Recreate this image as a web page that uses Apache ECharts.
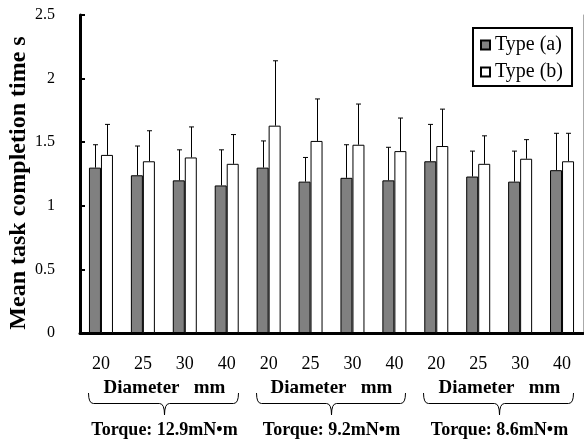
<!DOCTYPE html>
<html>
<head>
<meta charset="utf-8">
<title>Mean task completion time</title>
<script src="https://cdn.jsdelivr.net/npm/echarts@6/dist/echarts.min.js"></script>
<style>
  html, body { margin: 0; padding: 0; background: #fff; }
  #chart { width: 584px; height: 446px; }
</style>
</head>
<body>
<div id="chart"></div>
<script>
// diameter (mm) of each condition, three torque settings of four diameters
const diameters = ['20', '25', '30', '40', '20', '25', '30', '40', '20', '25', '30', '40']
const torqueLabels = ['Torque: 12.9mN\u2022m', 'Torque: 9.2mN\u2022m', 'Torque: 8.6mN\u2022m']
const groupLabel = 'Diameter   mm'
const seriesNames = ['Type (a)', 'Type (b)']

// mean task completion time (s) and standard deviation
const meanA = [1.30, 1.24, 1.20, 1.16, 1.30, 1.19, 1.22, 1.20, 1.35, 1.23, 1.19, 1.28]
const sdA = [0.18, 0.23, 0.24, 0.28, 0.21, 0.19, 0.26, 0.26, 0.29, 0.20, 0.24, 0.29]
const meanB = [1.40, 1.35, 1.38, 1.33, 1.63, 1.51, 1.48, 1.43, 1.47, 1.33, 1.37, 1.35]
const sdB = [0.24, 0.24, 0.24, 0.23, 0.51, 0.33, 0.32, 0.26, 0.29, 0.22, 0.15, 0.22]

const yMin = 0
const yMax = 2.5
const yStep = 0.5

const FONT = "'Liberation Serif', 'Times New Roman', serif"
const BAR_W = 12

const chart = echarts.init(document.getElementById('chart'))

// error bar: line from the mean up to mean + sd, with a small cap
function errorBar (side) {
  return function (params, api) {
    const idx = api.value(0)
    const base = api.coord([idx, api.value(1)])
    const top = api.coord([idx, api.value(2)])
    const x = Math.round(base[0] + side * BAR_W / 2) + 0.5
    const style = { stroke: '#000', lineWidth: 1 }
    return {
      type: 'group',
      children: [
        { type: 'line', shape: { x1: x, y1: base[1], x2: x, y2: top[1] }, style: style },
        { type: 'line', shape: { x1: x - 2.5, y1: top[1], x2: x + 2.5, y2: top[1] }, style: style }
      ]
    }
  }
}

const option = {
  animation: false,
  backgroundColor: '#fff',
  grid: { left: 80, top: 15, right: 1, bottom: 113, outerBoundsMode: 'none' },
  legend: {
    data: seriesNames,
    orient: 'vertical',
    left: 473,
    top: 28,
    padding: [7, 9, 4, 7],
    borderColor: '#000',
    borderWidth: 2,
    itemWidth: 9,
    itemHeight: 9,
    itemGap: 7,
    icon: 'rect',
    textStyle: { fontFamily: FONT, fontSize: 20, color: '#000', lineHeight: 20 }
  },
  xAxis: [
    {
      type: 'category',
      data: diameters,
      axisLine: { lineStyle: { color: '#000', width: 3 } },
      axisTick: { inside: true, length: 5, lineStyle: { color: '#000', width: 2 } },
      axisLabel: { fontFamily: FONT, fontSize: 18, color: '#000', margin: 22, interval: 0 }
    },
    {
      type: 'category',
      position: 'top',
      data: diameters,
      axisLine: { lineStyle: { color: '#000', width: 2 } },
      axisTick: { show: false },
      axisLabel: { show: false }
    }
  ],
  yAxis: [
    {
      type: 'value',
      min: yMin,
      max: yMax,
      interval: yStep,
      name: 'Mean task completion time s',
      nameLocation: 'middle',
      nameGap: 49,
      nameMoveOverlap: false,
      nameTextStyle: { fontFamily: FONT, fontSize: 24, fontWeight: 'bold', color: '#000', padding: [0, 18, 0, 0] },
      axisLine: { show: true, lineStyle: { color: '#000', width: 3 } },
      axisTick: { show: true, inside: true, length: 5, lineStyle: { color: '#000', width: 2 } },
      axisLabel: { fontFamily: FONT, fontSize: 16, color: '#000', margin: 25 },
      splitLine: { show: false }
    },
    {
      type: 'value',
      position: 'right',
      min: yMin,
      max: yMax,
      axisLine: { show: true, lineStyle: { color: '#aaa', width: 1 } },
      axisTick: { show: false },
      axisLabel: { show: false },
      splitLine: { show: false }
    }
  ],
  series: [
    {
      name: seriesNames[0],
      type: 'bar',
      data: meanA,
      barWidth: BAR_W,
      barGap: '0%',
      itemStyle: { color: '#808080', borderColor: '#000', borderWidth: 1 }
    },
    {
      name: seriesNames[1],
      type: 'bar',
      data: meanB,
      barWidth: BAR_W,
      barGap: '0%',
      itemStyle: { color: '#fff', borderColor: '#000', borderWidth: 1 }
    },
    {
      name: 'errA',
      type: 'custom',
      renderItem: errorBar(-1),
      data: meanA.map((m, i) => [i, m, m + sdA[i]]),
      z: 5
    },
    {
      name: 'errB',
      type: 'custom',
      renderItem: errorBar(1),
      data: meanB.map((m, i) => [i, m, m + sdB[i]]),
      z: 5
    }
  ]
}
chart.setOption(option)

// braces and labels under each torque group
function drawGroups () {
  const per = diameters.length / torqueLabels.length
  const c0 = chart.convertToPixel({ xAxisIndex: 0 }, 0)
  const c1 = chart.convertToPixel({ xAxisIndex: 0 }, 1)
  const cw = c1 - c0
  const yTop = 393
  const yMid = 403.5
  const yTip = 415
  const line = { stroke: '#000', lineWidth: 1, fill: null }
  const elements = []
  torqueLabels.forEach((label, g) => {
    const x0 = Math.round(chart.convertToPixel({ xAxisIndex: 0 }, g * per) - cw / 2 + 8) + 0.5
    const x1 = Math.round(chart.convertToPixel({ xAxisIndex: 0 }, g * per + per - 1) + cw / 2 - 10) + 0.5
    const xm = Math.round((x0 + x1) / 2) + 0.5
    elements.push(
      { type: 'bezierCurve', shape: { x1: x0, y1: yTop, x2: x0 + 5, y2: yMid, cpx1: x0, cpy1: yMid }, style: line },
      { type: 'line', shape: { x1: x0 + 5, y1: yMid, x2: xm - 5, y2: yMid }, style: line },
      { type: 'bezierCurve', shape: { x1: xm - 5, y1: yMid, x2: xm, y2: yTip, cpx1: xm, cpy1: yMid }, style: line },
      { type: 'bezierCurve', shape: { x1: xm + 5, y1: yMid, x2: xm, y2: yTip, cpx1: xm, cpy1: yMid }, style: line },
      { type: 'line', shape: { x1: xm + 5, y1: yMid, x2: x1 - 5, y2: yMid }, style: line },
      { type: 'bezierCurve', shape: { x1: x1 - 5, y1: yMid, x2: x1, y2: yTop, cpx1: x1, cpy1: yMid }, style: line },
      {
        type: 'text',
        x: xm,
        y: 388,
        style: { text: groupLabel, font: 'bold 19px ' + FONT, fill: '#000', align: 'center', verticalAlign: 'middle' }
      },
      {
        type: 'text',
        x: xm,
        y: 430,
        style: { text: label, font: 'bold 18px ' + FONT, fill: '#000', align: 'center', verticalAlign: 'middle' }
      }
    )
  })
  chart.setOption({ graphic: elements })
}
drawGroups()
</script>
</body>
</html>
